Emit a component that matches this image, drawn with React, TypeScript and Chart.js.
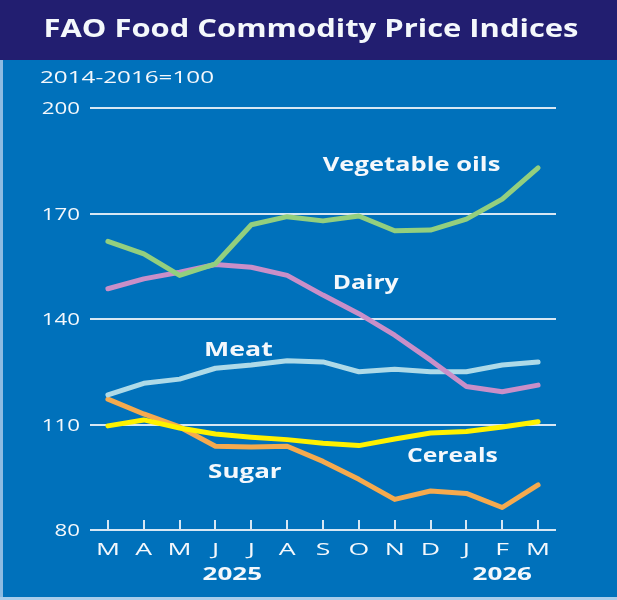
import { useEffect, useRef } from "react";
import { Chart, registerables } from "chart.js";

Chart.register(...registerables);

const months = ["M", "A", "M", "J", "J", "A", "S", "O", "N", "D", "J", "F", "M"];
const vegetableOils = [162.1, 158.5, 152.4, 155.7, 166.8, 169.1, 167.9, 169.3, 165.1, 165.3, 168.4, 174.1, 183.0];
const dairy = [148.6, 151.4, 153.3, 155.5, 154.7, 152.4, 146.8, 141.5, 135.4, 128.3, 120.8, 119.3, 121.2];
const meat = [118.4, 121.7, 122.9, 126.0, 126.9, 128.1, 127.8, 125.0, 125.7, 125.0, 125.0, 126.9, 127.8];
const cereals = [109.6, 111.3, 109.0, 107.3, 106.4, 105.7, 104.7, 104.0, 105.9, 107.6, 108.0, 109.3, 110.8];
const sugar = [117.2, 113.0, 109.3, 103.8, 103.6, 103.8, 99.5, 94.4, 88.7, 91.1, 90.4, 86.4, 92.8];
const yTicks = [80, 110, 140, 170, 200];
const yearLabels = ["2025", "2026"];
const yearAt = [3.47, 11.0];

const titleText = "FAO Food Commodity Price Indices";
const subtitleText = "2014-2016=100";

// series label anchors in data units: [text, x index, value, ink width]
const seriesLabelText = ["Vegetable oils", "Dairy", "Meat", "Sugar", "Cereals"];
const seriesLabelX = [8.47, 7.19, 3.64, 3.82, 9.61];
const seriesLabelY = [184.0, 150.6, 131.4, 96.8, 101.2];
const seriesLabelW = [177, 65, 67, 74, 89];

const BLUE = "#0071BB";
const NAVY = "#221E70";
const GRID = "#D6E7F4";
const WHITE = "#F4F8FC";
const FONT = "'Open Sans', 'DejaVu Sans', sans-serif";

function inkWidth(ctx: CanvasRenderingContext2D, text: string) {
  const m = ctx.measureText(text);
  return m.actualBoundingBoxLeft + m.actualBoundingBoxRight;
}

function drawFit(
  ctx: CanvasRenderingContext2D,
  text: string,
  x: number,
  cy: number,
  font: string,
  sx: number,
  align: CanvasTextAlign
) {
  ctx.save();
  ctx.font = font;
  const cap = ctx.measureText("H").actualBoundingBoxAscent;
  ctx.translate(x, cy + cap / 2);
  ctx.scale(sx, 1);
  ctx.textAlign = align;
  ctx.textBaseline = "alphabetic";
  ctx.fillStyle = WHITE;
  ctx.fillText(text, 0, 0);
  ctx.restore();
}

const chromePlugin = {
  id: "chrome",
  beforeDraw(chart: any) {
    const ctx: CanvasRenderingContext2D = chart.ctx;
    const w = chart.width;
    const h = chart.height;
    ctx.save();
    ctx.fillStyle = BLUE;
    ctx.fillRect(0, 0, w, h);
    ctx.fillStyle = NAVY;
    ctx.fillRect(0, 0, w, 60);
    ctx.fillStyle = "#8CBBE2";
    ctx.fillRect(0, 60, 3, h - 60);
    ctx.fillStyle = "#A8CDEB";
    ctx.fillRect(0, h - 3, w, 3);
    ctx.restore();
  },
  afterDraw(chart: any) {
    const ctx: CanvasRenderingContext2D = chart.ctx;
    const xs = chart.scales.x;
    const ys = chart.scales.y;
    const area = chart.chartArea;

    // title
    let f = `700 25px ${FONT}`;
    ctx.font = f;
    drawFit(ctx, titleText, 311, 28, f, 532 / inkWidth(ctx, titleText), "center");

    // subtitle
    f = `400 17px ${FONT}`;
    ctx.font = f;
    drawFit(ctx, subtitleText, 40, 77, f, 173 / inkWidth(ctx, subtitleText), "left");

    // y tick labels
    f = `400 16px ${FONT}`;
    ctx.font = f;
    const sy = 38 / inkWidth(ctx, "200");
    ys.ticks.forEach((t: any) => {
      drawFit(ctx, String(t.value), area.left - 10, ys.getPixelForValue(t.value), f, sy, "right");
    });

    // x tick marks
    ctx.save();
    ctx.strokeStyle = GRID;
    ctx.lineWidth = 2;
    months.forEach((_, i) => {
      const px = Math.round(xs.getPixelForValue(i)) + 0.0;
      ctx.beginPath();
      ctx.moveTo(px, area.bottom - 10);
      ctx.lineTo(px, area.bottom);
      ctx.stroke();
    });
    ctx.restore();

    // month labels
    f = `400 16px ${FONT}`;
    ctx.font = f;
    const smx = 20 / inkWidth(ctx, "M");
    months.forEach((m, i) => {
      drawFit(ctx, m, xs.getPixelForValue(i), area.bottom + 19, f, smx, "center");
    });

    // years
    f = `700 18px ${FONT}`;
    ctx.font = f;
    const syr = 59 / inkWidth(ctx, "2025");
    yearLabels.forEach((y, i) => {
      drawFit(ctx, y, xs.getPixelForValue(yearAt[i]), area.bottom + 43, f, syr, "center");
    });

    // series labels
    f = `700 19px ${FONT}`;
    seriesLabelText.forEach((t, i) => {
      ctx.font = f;
      const s = seriesLabelW[i] / inkWidth(ctx, t);
      drawFit(ctx, t, xs.getPixelForValue(seriesLabelX[i]), ys.getPixelForValue(seriesLabelY[i]), f, s, "center");
    });
  },
};

function line(label: string, data: number[], color: string, order: number) {
  return {
    label,
    data,
    borderColor: color,
    backgroundColor: color,
    borderWidth: 5,
    pointRadius: 0,
    tension: 0,
    fill: false,
    borderCapStyle: "round" as const,
    borderJoinStyle: "round" as const,
    order,
  };
}

export default function App() {
  const ref = useRef<HTMLCanvasElement | null>(null);

  useEffect(() => {
    document.body.style.margin = "0";
    if (!ref.current) return;
    const chart = new Chart(ref.current, {
      type: "line",
      data: {
        labels: months,
        datasets: [
          line("Vegetable oils", vegetableOils, "#93CF7E", 0),
          line("Cereals", cereals, "#FFF200", 1),
          line("Dairy", dairy, "#C98FC8", 2),
          line("Meat", meat, "#AEDAE8", 3),
          line("Sugar", sugar, "#F5AA4E", 4),
        ],
      },
      options: {
        animation: false,
        responsive: false,
        maintainAspectRatio: false,
        layout: { padding: { top: 108, right: 61, left: 0, bottom: 0 } },
        plugins: {
          legend: { display: false },
          tooltip: { enabled: false },
          title: { display: false },
        },
        scales: {
          x: {
            type: "category",
            offset: true,
            grid: { display: false },
            border: { display: false },
            ticks: { display: false },
            afterFit: (s: any) => {
              s.height = 70;
            },
          },
          y: {
            min: 80,
            max: 200,
            afterBuildTicks: (s: any) => {
              s.ticks = yTicks.map((v) => ({ value: v }));
            },
            grid: { color: GRID, lineWidth: 2, drawTicks: false },
            border: { display: false },
            ticks: { display: false },
            afterFit: (s: any) => {
              s.width = 90;
            },
          },
        },
      },
      plugins: [chromePlugin],
    });
    return () => chart.destroy();
  }, []);

  return (
    <div style={{ width: 617, height: 600 }}>
      <canvas ref={ref} width={617} height={600} style={{ display: "block", width: 617, height: 600 }} />
    </div>
  );
}
